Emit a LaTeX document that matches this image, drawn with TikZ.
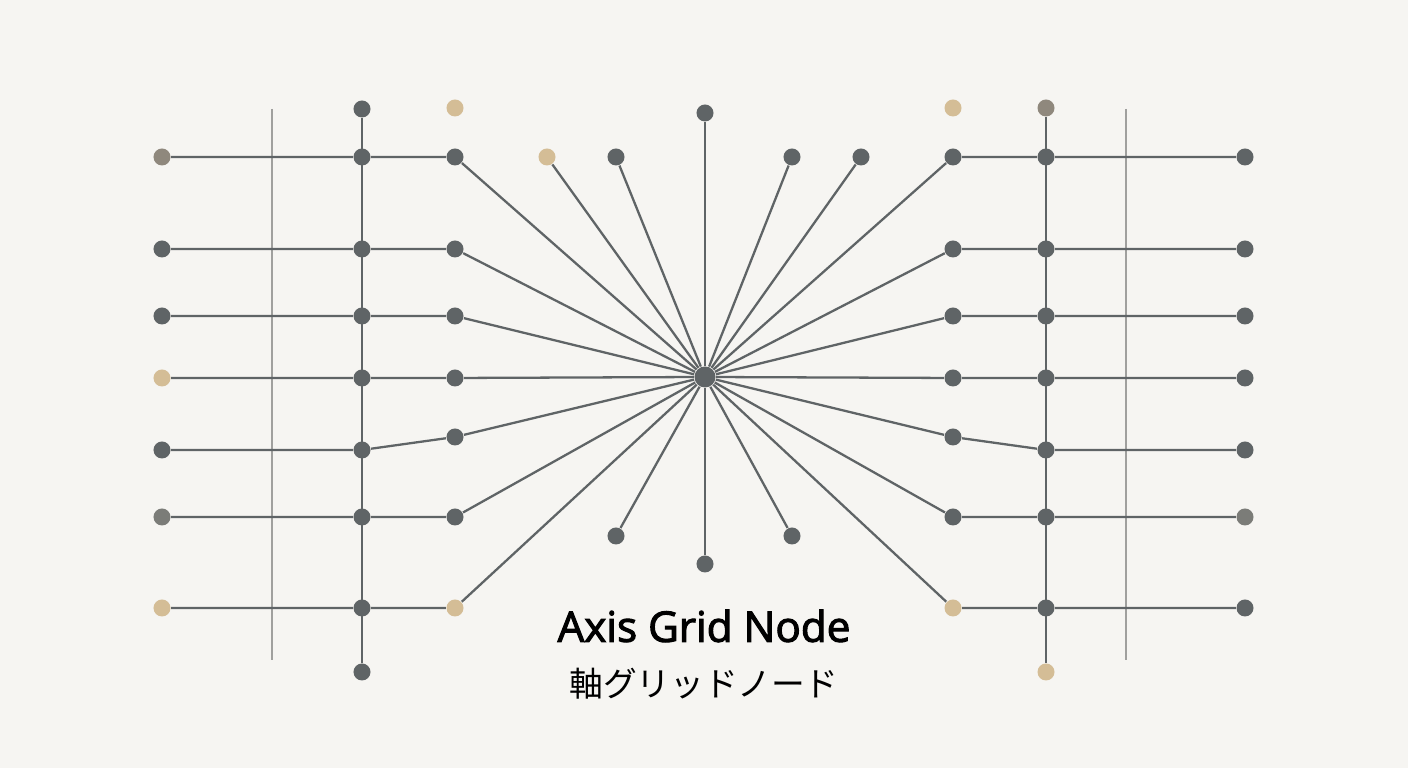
\documentclass[tikz,border=0pt]{standalone}
\usepackage{fontspec}
\newfontfamily\labelfont[FakeBold=2.5]{Open Sans}
\newfontfamily\jpfont{Noto Sans CJK JP}
\definecolor{paper}{HTML}{F6F5F2}
\definecolor{ink}{HTML}{5F6466}
\definecolor{sand}{HTML}{D4BD96}
\definecolor{taupe}{HTML}{8F887D}
\definecolor{ash}{HTML}{7B7C78}
\definecolor{guide}{HTML}{A0A09E}
\tikzset{
  gdot/.style={circle,fill=ink,inner sep=0pt,minimum size=1.7mm},
  sanddot/.style={gdot,fill=sand},
  taupedot/.style={gdot,fill=taupe},
  ashdot/.style={gdot,fill=ash},
  hub/.style={circle,fill=ink,inner sep=0pt,minimum size=2.1mm},
  link/.style={draw=ink,line width=0.65pt},
  guideline/.style={draw=guide,line width=0.5pt}
}
\begin{document}
\begin{tikzpicture}[x=0.01cm,y=-0.01cm]
\fill[paper] (0,0) rectangle (1408,768);
% thin guides
\coordinate (gl1) at (272,109);
\coordinate (gl2) at (272,660);
\coordinate (gr1) at (1126,109);
\coordinate (gr2) at (1126,660);
\draw[guideline] (gl1) -- (gl2);
\draw[guideline] (gr1) -- (gr2);
% hub
\node[hub] (hub) at (705,377) {};
% left side
\foreach \n/\y/\s in {1/157/taupedot,2/249/gdot,3/316/gdot,4/378/sanddot,5/450/gdot,6/517/ashdot,7/608/sanddot}{
  \node[\s] (L\n) at (162,\y) {};
  \node[gdot] (M\n) at (362,\y) {};
}
\foreach \n/\y in {1/157,2/249,3/316,4/378,5/437,6/517}
  \node[gdot] (I\n) at (455,\y) {};
\node[sanddot] (I7) at (455,608) {};
\node[gdot] (M0) at (362,109) {};
\node[gdot] (M8) at (362,672) {};
\node[sanddot] (It) at (455,108) {};
% right side
\foreach \n/\y/\s in {1/157/gdot,2/249/gdot,3/316/gdot,4/378/gdot,5/450/gdot,6/517/ashdot,7/608/gdot}{
  \node[\s] (R\n) at (1245,\y) {};
  \node[gdot] (N\n) at (1046,\y) {};
}
\foreach \n/\y in {1/157,2/249,3/316,4/378,5/437,6/517}
  \node[gdot] (J\n) at (953,\y) {};
\node[sanddot] (J7) at (953,608) {};
\node[taupedot] (N0) at (1046,108) {};
\node[sanddot] (N8) at (1046,672) {};
\node[sanddot] (Jt) at (953,108) {};
% spokes top and bottom
\node[sanddot] (S1) at (547,157) {};
\node[gdot] (S2) at (616,157) {};
\node[gdot] (S3) at (705,113) {};
\node[gdot] (S4) at (792,157) {};
\node[gdot] (S5) at (861,157) {};
\node[gdot] (B1) at (616,536) {};
\node[gdot] (B2) at (705,564) {};
\node[gdot] (B3) at (792,536) {};
% connectors
\foreach \n in {1,...,7}{
  \draw[link] (L\n) -- (M\n) -- (I\n) -- (hub);
  \draw[link] (R\n) -- (N\n) -- (J\n) -- (hub);
}
\draw[link] (M0) \foreach \n in {1,...,8}{ -- (M\n)};
\draw[link] (N0) \foreach \n in {1,...,8}{ -- (N\n)};
\foreach \t in {S1,S2,S3,S4,S5,B1,B2,B3}
  \draw[link] (hub) -- (\t);
% title
\node (title) at (704,626) {\labelfont\fontsize{12pt}{14pt}\selectfont Axis Grid Node};
\node (subtitle) at (704,684) {\jpfont\fontsize{9.6pt}{11pt}\selectfont 軸グリッドノード};
\end{tikzpicture}
\end{document}
